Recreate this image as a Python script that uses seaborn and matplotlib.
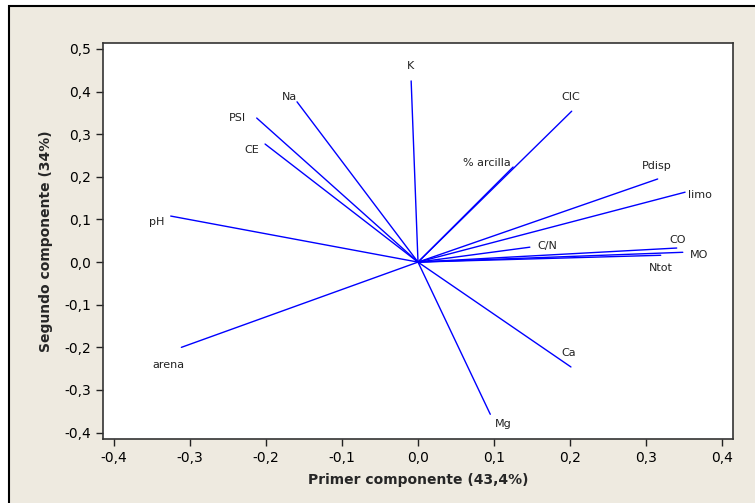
import pandas as pd
import matplotlib
matplotlib.use("Agg")
import matplotlib.pyplot as plt
import seaborn as sns
from matplotlib.ticker import FuncFormatter, MultipleLocator
from matplotlib.patches import Rectangle

sns.set_style("ticks")
plt.rcParams['font.family'] = ['DejaVu Sans']

# cargas de las variables en las dos primeras componentes
variables = ['K', 'CIC', '% arcilla', 'Pdisp', 'limo', 'CO', 'MO', 'Ntot',
             'C/N', 'Ca', 'Mg', 'arena', 'pH', 'CE', 'PSI', 'Na']
pc1 = [-0.009, 0.202, 0.125, 0.315, 0.351, 0.340, 0.348, 0.319,
       0.147, 0.201, 0.095, -0.311, -0.325, -0.201, -0.212, -0.159]
pc2 = [0.425, 0.354, 0.223, 0.195, 0.164, 0.033, 0.023, 0.016,
       0.035, -0.246, -0.357, -0.200, 0.108, 0.277, 0.338, 0.376]

# desplazamiento de cada etiqueta respecto al extremo (pixeles)
offsets = {'K': (-1, 15), 'CIC': (-1, 14), '% arcilla': (-26, 4), 'Pdisp': (-1, 13),
           'limo': (15, -3), 'CO': (1, 8), 'MO': (16, -3), 'Ntot': (0, -13),
           'C/N': (17, 1), 'Ca': (-2, 14), 'Mg': (13, -10), 'arena': (-13, -18),
           'pH': (-14, -6), 'CE': (-13, -6), 'PSI': (-19, 0), 'Na': (-8, 5)}

rows = []
for v, a, b in zip(variables, pc1, pc2):
    rows.append({'var': v, 'x': 0.0, 'y': 0.0})
    rows.append({'var': v, 'x': a, 'y': b})
df = pd.DataFrame(rows)

fig = plt.figure(figsize=(7.55, 5.03), dpi=100)
fig.patch.set_facecolor('white')
fondo = Rectangle((9 / 755, -0.1), 1.2, (1 - 6 / 503) + 0.1,
                  transform=fig.transFigure, facecolor='#EEEAE0',
                  edgecolor='black', linewidth=1.5, zorder=-5)
fig.add_artist(fondo)
ax = fig.add_axes([103 / 755, 1 - 439 / 503, 630 / 755, 396 / 503])
ax.set_zorder(2)
ax.set_facecolor('white')

sns.lineplot(data=df, x='x', y='y', units='var', estimator=None, sort=False,
             color='#0000FF', linewidth=1.0, ax=ax)

for v, a, b in zip(variables, pc1, pc2):
    dx, dy = offsets[v]
    ax.annotate(v, (a, b), xytext=(dx, dy), textcoords='offset pixels',
                ha='center', va='center', fontsize=8, color='#222222')

ax.set_xlim(-0.414, 0.414)
ax.set_ylim(-0.415, 0.514)
ax.xaxis.set_major_locator(MultipleLocator(0.1))
ax.yaxis.set_major_locator(MultipleLocator(0.1))
fmt = FuncFormatter(lambda v, p: ('%.1f' % v).replace('-0.0', '0.0').replace('.', ','))
ax.xaxis.set_major_formatter(fmt)
ax.yaxis.set_major_formatter(fmt)
ax.tick_params(direction='out', length=5, width=1, labelsize=10, colors='#222222', labelcolor='black')

for s in ax.spines.values():
    s.set_visible(True)
    s.set_color('#333333')
    s.set_linewidth(1.2)

ax.set_xlabel('Primer componente (43,4%)', fontsize=10, fontweight='bold', labelpad=6)
ax.set_ylabel('Segundo componente (34%)', fontsize=10, fontweight='bold', labelpad=8)

fig.savefig('out.png', dpi=100, facecolor=fig.get_facecolor())
